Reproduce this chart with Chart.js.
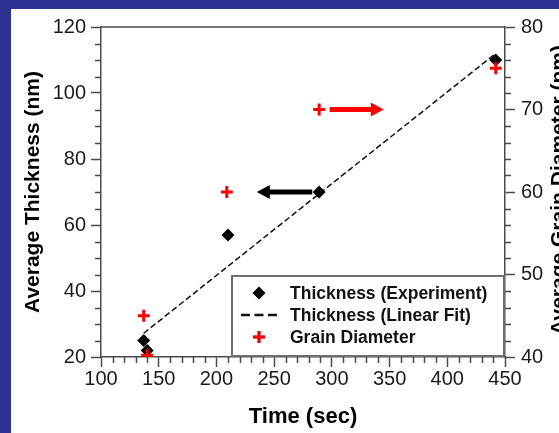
<!DOCTYPE html>
<html>
<head>
<meta charset="utf-8">
<title>Thickness and Grain Diameter vs Time</title>
<script src="https://cdn.jsdelivr.net/npm/chart.js@4.4.1/dist/chart.umd.min.js"></script>
<style>
    html, body { margin: 0; padding: 0; width: 559px; height: 433px; overflow: hidden; background: #2f3192; }
    #panel { position: absolute; left: 11px; top: 9px; width: 548px; height: 424px; background: #fff; }
    canvas { display: block; }
</style>
</head>
<body>
<div id="panel"><canvas id="thicknessChart" width="548" height="424"></canvas></div>
<script>
// Data
const expTime = [137, 140, 210, 289, 442];
const expThickness = [25, 22, 57, 70, 110];

const fitTime = [137, 442];
const fitThickness = [27.2, 112];

const grainTime = [137, 140, 209, 289, 442];
const grainDiameter = [45, 40.2, 60, 70, 75];

const xRange = [100, 450];
const yRange = [20, 120];
const y2Range = [40, 80];

// arrows pointing at the axis each series belongs to: [tailX, tipX, value]
const thicknessArrow = [283, 235, 70];
const grainArrow = [298, 345, 70];

const FONT = '"Liberation Sans", Arial, sans-serif';
const AXIS_COLOR = '#4a4a4a';

function pairs(xs, ys) {
    return xs.map((x, i) => ({ x: x, y: ys[i] }));
}

// Minor tick marks, drawn through the scales
const minorTicks = {
    id: 'minorTicks',
    afterDraw(chart) {
        const ctx = chart.ctx;
        const { x, y, y2 } = chart.scales;
        ctx.save();
        ctx.strokeStyle = AXIS_COLOR;
        ctx.lineWidth = 1.5;
        ctx.beginPath();
        for (let v = xRange[0]; v <= xRange[1]; v += 10) {
            if (v % 50 === 0) continue;
            const px = Math.round(x.getPixelForValue(v)) + 0.5;
            ctx.moveTo(px, x.top);
            ctx.lineTo(px, x.top + 6);
        }
        for (let v = yRange[0]; v <= yRange[1]; v += 5) {
            if (v % 20 === 0) continue;
            const py = Math.round(y.getPixelForValue(v)) + 0.5;
            ctx.moveTo(y.right, py);
            ctx.lineTo(y.right - 6, py);
        }
        for (let v = y2Range[0]; v <= y2Range[1]; v += 2) {
            if (v % 10 === 0) continue;
            const py = Math.round(y2.getPixelForValue(v)) + 0.5;
            ctx.moveTo(y2.left, py);
            ctx.lineTo(y2.left + 6, py);
        }
        // top frame line
        const area = chart.chartArea;
        ctx.moveTo(area.left, area.top);
        ctx.lineTo(area.right, area.top);
        ctx.stroke();
        ctx.restore();
    }
};

// Arrows and the right axis title
function drawArrow(ctx, scaleX, scaleY, arrow, color) {
    const tail = scaleX.getPixelForValue(arrow[0]);
    const tip = scaleX.getPixelForValue(arrow[1]);
    const py = scaleY.getPixelForValue(arrow[2]);
    const dir = tip > tail ? 1 : -1;
    const headLen = 13;
    const headHalf = 7;
    const shaftHalf = 2.5;
    const base = tip - dir * headLen;
    ctx.fillStyle = color;
    ctx.beginPath();
    ctx.moveTo(tail, py - shaftHalf);
    ctx.lineTo(base, py - shaftHalf);
    ctx.lineTo(base, py - headHalf);
    ctx.lineTo(tip, py);
    ctx.lineTo(base, py + headHalf);
    ctx.lineTo(base, py + shaftHalf);
    ctx.lineTo(tail, py + shaftHalf);
    ctx.closePath();
    ctx.fill();
}

const annotations = {
    id: 'annotations',
    afterDatasetsDraw(chart) {
        const ctx = chart.ctx;
        const { x, y, y2 } = chart.scales;
        ctx.save();
        drawArrow(ctx, x, y, thicknessArrow, '#000');
        drawArrow(ctx, x, y2, grainArrow, '#ff0000');
        ctx.restore();

        // right axis title reads bottom to top like the left one
        ctx.save();
        ctx.translate(554, 181);
        ctx.rotate(-Math.PI / 2);
        ctx.font = 'bold 21px ' + FONT;
        ctx.fillStyle = '#000';
        ctx.textAlign = 'center';
        ctx.textBaseline = 'alphabetic';
        ctx.fillText('Average Grain Diameter (nm)', 0, 0);
        ctx.restore();
    }
};

// Legend box inside the plot
const boxLegend = {
    id: 'boxLegend',
    afterDraw(chart) {
        const ctx = chart.ctx;
        const sets = chart.data.datasets;
        const left = 221, top = 267, right = 493, bottom = 347;
        const symX = 248, textX = 279;
        const rows = [284, 306, 328];

        ctx.save();
        ctx.fillStyle = '#fff';
        ctx.fillRect(left, top, right - left, bottom - top);
        ctx.strokeStyle = '#6e6e6e';
        ctx.lineWidth = 2;
        ctx.strokeRect(left, top, right - left, bottom - top);

        sets.forEach((ds, i) => {
            const cy = rows[i];
            if (ds.showLine === false) {
                Chart.helpers.drawPoint(ctx, {
                    pointStyle: ds.pointStyle,
                    radius: ds.pointRadius,
                    borderWidth: ds.borderWidth,
                    rotation: 0
                }, symX, cy);
                ctx.fillStyle = ds.backgroundColor;
                ctx.strokeStyle = ds.borderColor;
                ctx.lineWidth = ds.borderWidth;
                ctx.beginPath();
                Chart.helpers.drawPoint(ctx, {
                    pointStyle: ds.pointStyle,
                    radius: ds.pointRadius,
                    borderWidth: ds.borderWidth,
                    rotation: 0
                }, symX, cy);
            } else {
                ctx.strokeStyle = ds.borderColor;
                ctx.lineWidth = 2.5;
                ctx.setLineDash([9, 4.5]);
                ctx.beginPath();
                ctx.moveTo(symX - 18, cy);
                ctx.lineTo(symX + 18, cy);
                ctx.stroke();
                ctx.setLineDash([]);
            }
            ctx.fillStyle = '#111';
            ctx.font = 'bold 17.5px ' + FONT;
            ctx.textAlign = 'left';
            ctx.textBaseline = 'middle';
            ctx.fillText(ds.label, textX, cy + 1);
        });
        ctx.restore();
    }
};

function fixSize(prop, value) {
    return function(scale) { scale[prop] = value; };
}

const tickFont = { family: FONT, size: 20 };

new Chart(document.getElementById('thicknessChart'), {
    type: 'scatter',
    data: {
        datasets: [{
            label: 'Thickness (Experiment)',
            data: pairs(expTime, expThickness),
            yAxisID: 'y',
            showLine: false,
            pointStyle: 'rectRot',
            pointRadius: 6.5,
            backgroundColor: '#000',
            borderColor: '#000',
            borderWidth: 0,
            clip: 0,
            order: 1
        }, {
            label: 'Thickness (Linear Fit)',
            data: pairs(fitTime, fitThickness),
            yAxisID: 'y',
            showLine: true,
            borderColor: '#111',
            borderWidth: 1.5,
            borderDash: [6, 3],
            pointRadius: 0,
            clip: 0,
            order: 2
        }, {
            label: 'Grain Diameter',
            data: pairs(grainTime, grainDiameter),
            yAxisID: 'y2',
            showLine: false,
            pointStyle: 'cross',
            pointRadius: 6,
            backgroundColor: '#ff0000',
            borderColor: '#ff0000',
            borderWidth: 3,
            clip: 0,
            order: 0
        }]
    },
    options: {
        responsive: false,
        animation: false,
        layout: { padding: { top: 18, left: 0, right: 0, bottom: 0 } },
        plugins: {
            legend: { display: false },
            tooltip: { enabled: false }
        },
        scales: {
            x: {
                type: 'linear',
                position: 'bottom',
                min: xRange[0],
                max: xRange[1],
                afterFit: fixSize('height', 76),
                ticks: { stepSize: 50, font: tickFont, color: '#1a1a1a', padding: 0, maxRotation: 0 },
                grid: { drawOnChartArea: false, tickLength: 10, tickColor: AXIS_COLOR, tickWidth: 1.5 },
                border: { color: AXIS_COLOR, width: 1.5 },
                title: {
                    display: true,
                    text: 'Time (sec)',
                    color: '#000',
                    font: { family: FONT, size: 22, weight: 'bold' },
                    padding: { top: 0, bottom: 3 }
                }
            },
            y: {
                type: 'linear',
                position: 'left',
                min: yRange[0],
                max: yRange[1],
                afterFit: fixSize('width', 90),
                ticks: { stepSize: 20, font: tickFont, color: '#1a1a1a', padding: 5 },
                grid: { drawOnChartArea: false, tickLength: 10, tickColor: AXIS_COLOR, tickWidth: 1.5 },
                border: { color: AXIS_COLOR, width: 1.5 },
                title: {
                    display: true,
                    text: 'Average Thickness (nm)',
                    color: '#000',
                    font: { family: FONT, size: 21, weight: 'bold' },
                    padding: { top: 10, bottom: 0 }
                }
            },
            y2: {
                type: 'linear',
                position: 'right',
                min: y2Range[0],
                max: y2Range[1],
                afterFit: fixSize('width', 54),
                ticks: { stepSize: 10, font: tickFont, color: '#1a1a1a', padding: 6 },
                grid: { drawOnChartArea: false, tickLength: 10, tickColor: AXIS_COLOR, tickWidth: 1.5 },
                border: { color: AXIS_COLOR, width: 1.5 }
            }
        }
    },
    plugins: [minorTicks, annotations, boxLegend]
});
</script>
</body>
</html>
